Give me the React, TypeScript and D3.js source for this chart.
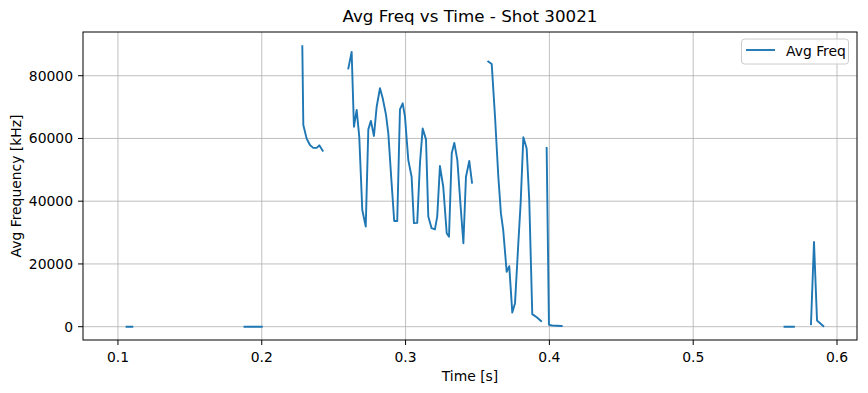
import * as d3 from "d3";
import { useRef, useEffect } from "react";

// null marks a gap in the signal (matplotlib NaN break)
const times: (number | null)[] = [
  0.106, 0.108, 0.110, null,
  0.188, 0.190, 0.192, 0.194, 0.196, 0.198, 0.200, null,
  0.2282, 0.2289, 0.2312, 0.2335, 0.2358, 0.2382, 0.2400, 0.2424, null,
  0.2602, 0.2625, 0.2641, 0.2660, 0.2678, 0.2699, 0.2723, 0.2741, 0.2759, 0.2780,
  0.2799, 0.2822, 0.2841, 0.2864, 0.2880, 0.2903, 0.2921, 0.2942, 0.2961, 0.2980,
  0.2996, 0.3019, 0.3042, 0.3058, 0.3081, 0.3100, 0.3119, 0.3142, 0.3158, 0.3181,
  0.3204, 0.3220, 0.3239, 0.3262, 0.3286, 0.3302, 0.3321, 0.3339, 0.3360, 0.3383,
  0.3402, 0.3420, 0.3443, 0.3462, null,
  0.3575, 0.3599, 0.3622, 0.3645, 0.3663, 0.3679, 0.3703, 0.3721, 0.3742, 0.3761,
  0.3784, 0.3800, 0.3819, 0.3842, 0.3860, 0.3881, 0.3912, 0.3942, null,
  0.3981, 0.3997, 0.4020, 0.4050, 0.4086, null,
  0.5635, 0.5655, 0.5675, 0.5700, null,
  0.5819, 0.5840, 0.5861, 0.5905,
];

const avgFreq: (number | null)[] = [
  0, 0, 0, null,
  0, 0, 0, 0, 0, 0, 0, null,
  89400, 64300, 60000, 57900, 57000, 57000, 57800, 56100, null,
  82300, 87600, 63700, 69100, 60500, 37200, 31900, 62900, 65600, 60800,
  70100, 76000, 72800, 67500, 61600, 45700, 33700, 33700, 69300, 71200,
  66900, 53100, 47800, 33000, 33100, 52100, 63200, 59700, 35100, 31400,
  31000, 35100, 51200, 44600, 29800, 28700, 55300, 58600, 53100, 38200,
  26600, 47800, 52800, 45900, null,
  84500, 83700, 66900, 47800, 36100, 30800, 17500, 19300, 4500, 7500,
  26600, 39300, 60400, 56800, 40400, 4000, 3000, 1800, null,
  57000, 600, 400, 300, 200, null,
  0, 0, 0, 0, null,
  800, 27000, 2000, 200,
];

const xTicks = [0.1, 0.2, 0.3, 0.4, 0.5, 0.6];
const yTicks = [0, 20000, 40000, 60000, 80000];

export default function App() {
  const svgRef = useRef<SVGSVGElement>(null);

  useEffect(() => {
    const svg = d3.select(svgRef.current);
    svg.selectAll("*").remove();

    const W = 868, H = 393;
    const m = { left: 83, right: 857, top: 32, bottom: 340 };
    const font = "DejaVu Sans, sans-serif";
    const fs = 13.9;

    const x = d3.scaleLinear().domain([0.0757, 0.6139]).range([m.left, m.right]);
    const y = d3.scaleLinear().domain([-4240, 93930]).range([m.bottom, m.top]);

    svg.attr("width", W).attr("height", H);
    svg.append("rect").attr("width", W).attr("height", H).attr("fill", "#fff");

    // grid
    const grid = svg.append("g").attr("stroke", "#b0b0b0").attr("stroke-width", 0.8);
    grid.selectAll(".gx").data(xTicks).join("line")
      .attr("x1", d => x(d)).attr("x2", d => x(d))
      .attr("y1", m.top).attr("y2", m.bottom);
    grid.selectAll(".gy").data(yTicks).join("line")
      .attr("y1", d => y(d)).attr("y2", d => y(d))
      .attr("x1", m.left).attr("x2", m.right);

    // data line
    const pts = times.map((t, i) => [t, avgFreq[i]] as [number | null, number | null]);
    const line = d3.line<[number | null, number | null]>()
      .defined(d => d[0] != null && d[1] != null)
      .x(d => x(d[0] as number))
      .y(d => y(d[1] as number));
    svg.append("path")
      .datum(pts)
      .attr("d", line)
      .attr("fill", "none")
      .attr("stroke", "#1f77b4")
      .attr("stroke-width", 1.9)
      .attr("stroke-linejoin", "round")
      .attr("stroke-linecap", "square");

    // frame
    svg.append("rect")
      .attr("x", m.left).attr("y", m.top)
      .attr("width", m.right - m.left).attr("height", m.bottom - m.top)
      .attr("fill", "none").attr("stroke", "#000").attr("stroke-width", 1);

    // x ticks
    const xt = svg.append("g");
    xt.selectAll("line").data(xTicks).join("line")
      .attr("x1", d => x(d)).attr("x2", d => x(d))
      .attr("y1", m.bottom).attr("y2", m.bottom + 5)
      .attr("stroke", "#000");
    xt.selectAll("text").data(xTicks).join("text")
      .attr("x", d => x(d)).attr("y", m.bottom + 22)
      .attr("text-anchor", "middle")
      .attr("font-family", font).attr("font-size", fs)
      .text(d => d3.format(".1f")(d));

    // y ticks
    const yt = svg.append("g");
    yt.selectAll("line").data(yTicks).join("line")
      .attr("y1", d => y(d)).attr("y2", d => y(d))
      .attr("x1", m.left - 5).attr("x2", m.left)
      .attr("stroke", "#000");
    yt.selectAll("text").data(yTicks).join("text")
      .attr("x", m.left - 10).attr("y", d => y(d) + 5)
      .attr("text-anchor", "end")
      .attr("font-family", font).attr("font-size", fs)
      .text(d => String(d));

    // labels
    svg.append("text")
      .attr("x", (m.left + m.right) / 2).attr("y", 22)
      .attr("text-anchor", "middle")
      .attr("font-family", font).attr("font-size", 16.7)
      .text("Avg Freq vs Time - Shot 30021");
    svg.append("text")
      .attr("x", (m.left + m.right) / 2).attr("y", 381)
      .attr("text-anchor", "middle")
      .attr("font-family", font).attr("font-size", fs)
      .text("Time [s]");
    svg.append("text")
      .attr("transform", `translate(21,${(m.top + m.bottom) / 2}) rotate(-90)`)
      .attr("text-anchor", "middle")
      .attr("font-family", font).attr("font-size", fs)
      .text("Avg Frequency [kHz]");

    // legend
    const lg = svg.append("g");
    lg.append("rect")
      .attr("x", 741.5).attr("y", 39).attr("width", 107).attr("height", 25)
      .attr("rx", 3)
      .attr("fill", "#fff").attr("fill-opacity", 0.8)
      .attr("stroke", "#cccccc");
    lg.append("line")
      .attr("x1", 746).attr("x2", 775).attr("y1", 50).attr("y2", 50)
      .attr("stroke", "#1f77b4").attr("stroke-width", 1.9);
    lg.append("text")
      .attr("x", 786).attr("y", 56)
      .attr("font-family", font).attr("font-size", fs)
      .text("Avg Freq");
  }, []);

  return (
    <svg ref={svgRef} style={{ display: "block", position: "absolute", left: 0, top: 0 }} />
  );
}
